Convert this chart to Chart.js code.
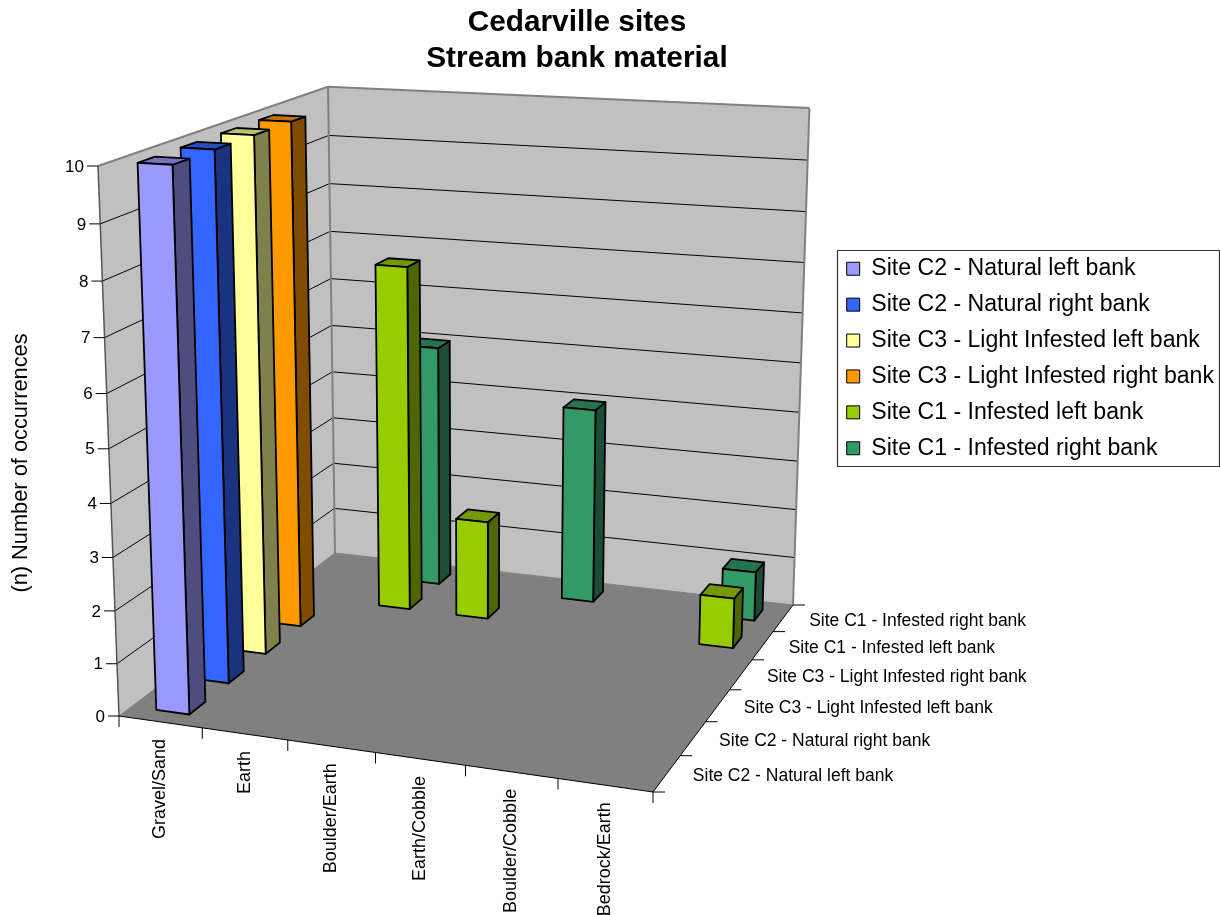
<!DOCTYPE html>
<html>
<head>
<meta charset="utf-8">
<title>Cedarville sites</title>
<script src="https://cdn.jsdelivr.net/npm/chart.js@4/dist/chart.umd.min.js"></script>
<style>
  body { margin: 0; background: #fff; }
</style>
</head>
<body>
<canvas id="chart" width="1220" height="915"></canvas>
<script>
var categories = ['Gravel/Sand', 'Earth', 'Boulder/Earth', 'Earth/Cobble', 'Boulder/Cobble', 'Bedrock/Earth'];
var seriesNames = [
    'Site C2 - Natural left bank',
    'Site C2 - Natural right bank',
    'Site C3 - Light Infested left bank',
    'Site C3 - Light Infested right bank',
    'Site C1 - Infested left bank',
    'Site C1 - Infested right bank'
];
var c2Left  = [10, 0, 0, 0, 0, 0];
var c2Right = [10, 0, 0, 0, 0, 0];
var c3Left  = [10, 0, 0, 0, 0, 0];
var c3Right = [10, 0, 0, 0, 0, 0];
var c1Left  = [0, 7, 2, 0, 0, 1];
var c1Right = [0, 5, 0, 4, 0, 1];
var seriesValues = [c2Left, c2Right, c3Left, c3Right, c1Left, c1Right];
var seriesColors = ['#9999FF', '#3366FF', '#FFFF99', '#FF9900', '#99CC00', '#339966'];
var valueTicks = { min: 0, max: 10, stepSize: 1 };

var FONT = '"Liberation Sans", Arial, sans-serif';

// room box on the page: origin is the front-left floor corner,
// u runs along the categories, v into the depth, w up the wall
var ORIGIN = [119, 716];
var FLOOR_RIGHT = [653, 792];
var FLOOR_BACK = [335, 553];
var WALL_TOP = [98, 166];
var PERSP = [-0.0758, 0.1891, -0.0552];
var BAR_SHARE = 0.4;    // gap width and gap depth of 150%

function edge(corner, k) {
    return [corner[0] * (1 + k) - ORIGIN[0], corner[1] * (1 + k) - ORIGIN[1]];
}
var EU = edge(FLOOR_RIGHT, PERSP[0]);
var EV = edge(FLOOR_BACK, PERSP[1]);
var EW = edge(WALL_TOP, PERSP[2]);

function project(u, v, w) {
    var d = 1 + PERSP[0] * u + PERSP[1] * v + PERSP[2] * w;
    return [
        (EU[0] * u + EV[0] * v + EW[0] * w + ORIGIN[0]) / d,
        (EU[1] * u + EV[1] * v + EW[1] * w + ORIGIN[1]) / d
    ];
}

function shade(hex, k) {
    var n = parseInt(hex.slice(1), 16);
    var r = Math.round((n >> 16 & 255) * k);
    var g = Math.round((n >> 8 & 255) * k);
    var b = Math.round((n & 255) * k);
    return 'rgb(' + r + ',' + g + ',' + b + ')';
}

function poly(ctx, pts, fill, stroke, lw) {
    ctx.beginPath();
    pts.forEach(function (p, i) {
        if (i) ctx.lineTo(p[0], p[1]); else ctx.moveTo(p[0], p[1]);
    });
    ctx.closePath();
    if (fill) { ctx.fillStyle = fill; ctx.fill(); }
    if (stroke) { ctx.strokeStyle = stroke; ctx.lineWidth = lw; ctx.stroke(); }
}

function seg(ctx, a, b, color, lw) {
    ctx.beginPath();
    ctx.moveTo(a[0], a[1]);
    ctx.lineTo(b[0], b[1]);
    ctx.strokeStyle = color;
    ctx.lineWidth = lw;
    ctx.stroke();
}

// scale pixels -> 0..1 room coordinates
function uOf(chart, i) {
    var s = chart.scales.x;
    return (s.getPixelForValue(i) - s.left) / s.width;
}
function vOf(chart, j) {
    var s = chart.scales.series;
    return (s.getPixelForValue(j) - s.left) / s.width;
}
function wOf(chart, val) {
    var s = chart.scales.y;
    return (s.bottom - s.getPixelForValue(val)) / s.height;
}

function drawRoom(chart) {
    var ctx = chart.ctx;
    var yTicks = chart.scales.y.ticks;

    poly(ctx, [project(0, 0, 0), project(0, 1, 0), project(0, 1, 1), project(0, 0, 1)], '#C0C0C0');
    poly(ctx, [project(0, 1, 0), project(1, 1, 0), project(1, 1, 1), project(0, 1, 1)], '#C0C0C0');
    poly(ctx, [project(0, 0, 0), project(1, 0, 0), project(1, 1, 0), project(0, 1, 0)], '#808080');

    yTicks.forEach(function (t) {
        var w = wOf(chart, t.value);
        if (w > 0 && w < 1) {
            seg(ctx, project(0, 0, w), project(0, 1, w), '#000', 1);
            seg(ctx, project(0, 1, w), project(1, 1, w), '#000', 1);
        }
    });

    // wall outlines are grey, the front floor edges black
    seg(ctx, project(0, 0, 1), project(0, 1, 1), '#808080', 2);
    seg(ctx, project(0, 1, 1), project(1, 1, 1), '#808080', 2);
    seg(ctx, project(0, 1, 0), project(0, 1, 1), '#808080', 2);
    seg(ctx, project(1, 1, 0), project(1, 1, 1), '#808080', 2);
    seg(ctx, project(0, 1, 0), project(1, 1, 0), '#808080', 1);
    seg(ctx, project(0, 0, 0), project(0, 1, 0), '#808080', 1);
    seg(ctx, project(0, 0, 0), project(0, 0, 1), '#555', 1.5);
    seg(ctx, project(0, 0, 0), project(1, 0, 0), '#000', 1);
    seg(ctx, project(1, 0, 0), project(1, 1, 0), '#000', 1);

    ctx.fillStyle = '#000';

    // value axis
    ctx.font = '17px ' + FONT;
    ctx.textAlign = 'right';
    ctx.textBaseline = 'middle';
    yTicks.forEach(function (t) {
        var p = project(0, 0, wOf(chart, t.value));
        seg(ctx, [p[0] - 11, p[1]], p, '#000', 1);
        ctx.fillStyle = '#000';
        ctx.fillText(String(t.value), p[0] - 14, p[1] + 1);
    });

    // category axis, rotated labels hang under the front edge
    var nCat = categories.length;
    for (var i = 0; i <= nCat; i++) {
        var p = project(i / nCat, 0, 0);
        seg(ctx, p, [p[0], p[1] + 11], '#000', 1);
    }
    ctx.font = '18px ' + FONT;
    categories.forEach(function (name, i) {
        var p = project(uOf(chart, i), 0, 0);
        ctx.save();
        ctx.translate(p[0], p[1] + 17);
        ctx.rotate(-Math.PI / 2);
        ctx.textAlign = 'right';
        ctx.textBaseline = 'middle';
        ctx.fillStyle = '#000';
        ctx.fillText(chart.scales.x.getLabelForValue(i), 0, 0);
        ctx.restore();
    });

    // series axis along the right floor edge
    var nSer = seriesNames.length;
    for (var j = 0; j <= nSer; j++) {
        var q = project(1, j / nSer, 0);
        seg(ctx, q, [q[0] + 12, q[1]], '#000', 1);
    }
    ctx.font = '17.5px ' + FONT;
    ctx.textAlign = 'left';
    ctx.textBaseline = 'middle';
    ctx.fillStyle = '#000';
    seriesNames.forEach(function (name, j) {
        var q = project(1, vOf(chart, j), 0);
        ctx.fillText(name, q[0] + 26, q[1] + 3);
    });

    // value axis title
    ctx.save();
    ctx.translate(21, 463);
    ctx.rotate(-Math.PI / 2);
    ctx.font = '21.8px ' + FONT;
    ctx.textAlign = 'center';
    ctx.textBaseline = 'middle';
    ctx.fillText('(n) Number of occurrences', 0, 0);
    ctx.restore();
}

function drawBar(chart, j, i, val) {
    var ctx = chart.ctx;
    var uc = uOf(chart, i), vc = vOf(chart, j);
    var du = BAR_SHARE / categories.length / 2;
    var dv = BAR_SHARE / seriesNames.length / 2;
    var u0 = uc - du, u1 = uc + du, v0 = vc - dv, v1 = vc + dv;
    var w = wOf(chart, val);
    var color = seriesColors[j];

    ctx.lineJoin = 'round';
    poly(ctx, [project(u1, v0, 0), project(u1, v1, 0), project(u1, v1, w), project(u1, v0, w)], shade(color, 0.5), '#000', 1.8);
    poly(ctx, [project(u0, v0, w), project(u1, v0, w), project(u1, v1, w), project(u0, v1, w)], shade(color, 0.75), '#000', 1.8);
    poly(ctx, [project(u0, v0, 0), project(u1, v0, 0), project(u1, v0, w), project(u0, v0, w)], color, '#000', 1.8);
}

var room3d = {
    id: 'room3d',
    beforeDatasetsDraw: function (chart) {
        drawRoom(chart);
    },
    // datasets arrive last to first, so the back rows are painted first
    beforeDatasetDraw: function (chart, args) {
        var values = chart.data.datasets[args.index].data;
        values.forEach(function (val, i) {
            if (val > 0) drawBar(chart, args.index, i, val);
        });
        return false;
    },
    afterDraw: function (chart) {
        // frame round the legend rows
        var ctx = chart.ctx;
        var first = chart.legend.legendHitBoxes[0];
        var last = chart.legend.legendHitBoxes[seriesNames.length - 1];
        var top = first.top + first.height / 2 - 19;
        var bottom = last.top + last.height / 2 + 18;
        var left = first.left - 10;
        ctx.strokeStyle = '#333';
        ctx.lineWidth = 1.2;
        ctx.strokeRect(Math.round(left) + 0.5, Math.round(top) + 0.5, 1219 - Math.round(left), Math.round(bottom - top));
    }
};

new Chart(document.getElementById('chart'), {
    type: 'bar',
    data: {
        labels: categories,
        datasets: seriesNames.map(function (name, j) {
            return {
                label: name,
                data: seriesValues[j],
                backgroundColor: seriesColors[j],
                borderColor: '#000',
                borderWidth: 1
            };
        })
    },
    plugins: [room3d],
    options: {
        responsive: false,
        animation: false,
        layout: { padding: { left: 320, right: -4, bottom: 198 } },
        scales: {
            x: { display: false },
            series: { type: 'category', axis: 'x', labels: seriesNames, offset: true, display: false },
            y: { display: false, min: valueTicks.min, max: valueTicks.max, ticks: { stepSize: valueTicks.stepSize } }
        },
        plugins: {
            tooltip: { enabled: false },
            title: {
                display: true,
                fullSize: false,
                text: ['Cedarville sites', 'Stream bank material'],
                color: '#000',
                font: { family: FONT, size: 29.8, weight: 'bold', lineHeight: 1.21 },
                padding: { top: 5, bottom: 6 }
            },
            legend: {
                position: 'right',
                labels: {
                    color: '#000',
                    boxWidth: 13,
                    boxHeight: 13,
                    padding: 12.8,
                    font: { family: FONT, size: 23.1 }
                }
            }
        }
    }
});
</script>
</body>
</html>
